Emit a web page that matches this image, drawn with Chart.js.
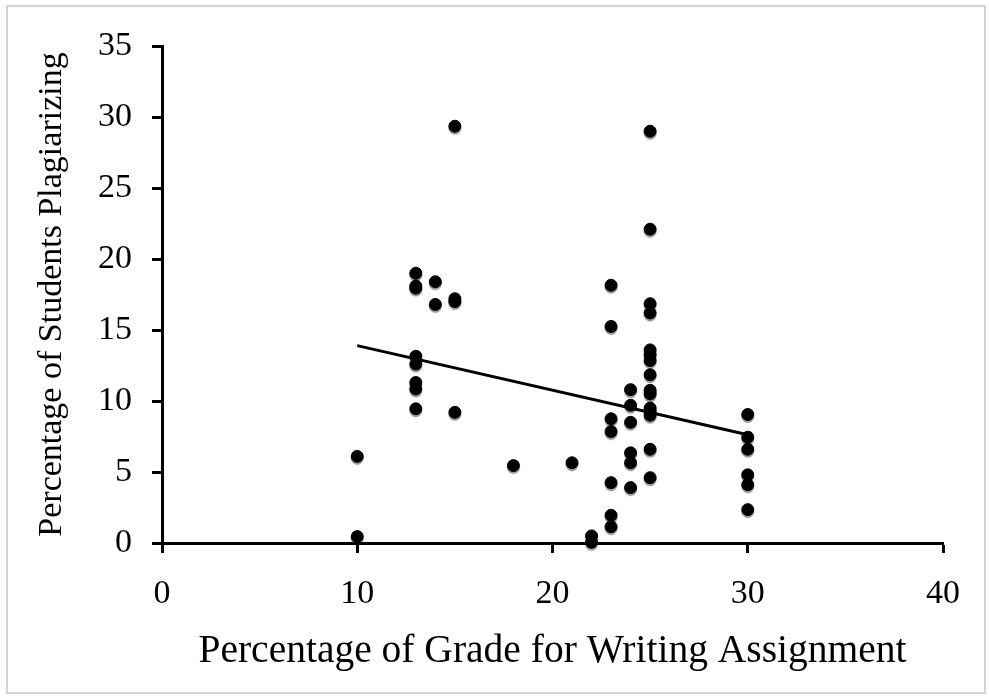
<!DOCTYPE html>
<html>
<head>
<meta charset="utf-8">
<script src="https://cdn.jsdelivr.net/npm/chart.js@4"></script>
<style>
  body { margin: 0; background: #fff; }
  #wrap { position: relative; width: 989px; height: 698px; }
  #frame { position: absolute; left: 6px; top: 5px; width: 976px; height: 685px; border: 2px solid #d4d4d4; pointer-events: none; }
</style>
</head>
<body>
<div id="wrap">
  <canvas id="plagiarismChart" width="989" height="698"></canvas>
  <div id="frame"></div>
</div>
<script>
// percentage of grade for the writing assignment (x) and % of students plagiarizing (y)
const gradeShare = [
  10, 10,
  13, 13, 13, 13, 13, 13, 13, 13,
  14, 14,
  15, 15, 15, 15,
  18, 21, 22, 22,
  23, 23, 23, 23, 23, 23, 23,
  24, 24, 24, 24, 24, 24,
  25, 25, 25, 25, 25, 25, 25, 25, 25, 25, 25, 25, 25, 25, 25,
  30, 30, 30, 30, 30, 30
];
const plagiarizing = [
  6.1, 0.45,
  19.0, 18.1, 17.95, 13.15, 12.6, 11.3, 10.85, 9.45,
  18.4, 16.8,
  29.35, 17.2, 17.0, 9.2,
  5.45, 5.65, 0.5, 0.05,
  18.15, 15.25, 8.75, 7.85, 4.25, 1.95, 1.15,
  10.8, 9.7, 8.5, 6.35, 5.65, 3.9,
  29.0, 22.1, 16.85, 16.2, 13.6, 13.25, 12.85, 11.85, 10.75, 10.5, 9.5, 9.25, 9.0, 6.6, 4.6,
  9.05, 7.45, 6.6, 4.8, 4.1, 2.35
];
const trendX = [10, 30];
const trendY = [13.9, 7.62];

const points = gradeShare.map((x, i) => ({ x: x, y: plagiarizing[i] }));
const trend = trendX.map((x, i) => ({ x: x, y: trendY[i] }));

const dotShadow = {
  id: 'dotShadow',
  beforeDatasetDraw(chart, args) {
    if (args.index !== 0) return;
    const c = chart.ctx;
    c.save();
    c.shadowColor = 'rgba(0,0,0,0.35)';
    c.shadowOffsetY = 2;
    c.shadowBlur = 1;
  },
  afterDatasetDraw(chart, args) {
    if (args.index === 0) chart.ctx.restore();
  }
};

const serif = 'Liberation Serif';

new Chart(document.getElementById('plagiarismChart'), {
  type: 'scatter',
  data: {
    datasets: [
      {
        label: 'Students',
        data: points,
        backgroundColor: '#000',
        borderColor: '#000',
        pointRadius: 6,
        pointHoverRadius: 6,
        clip: false,
      },
      {
        type: 'line',
        label: 'Trend',
        data: trend,
        borderColor: '#000',
        borderWidth: 3,
        pointRadius: 0,
        fill: false,
      },
    ],
  },
  options: {
    responsive: false,
    animation: false,
    layout: { padding: { left: 0, right: 46, top: 46, bottom: 0 } },
    plugins: {
      legend: { display: false },
      tooltip: { enabled: false },
    },
    scales: {
      x: {
        type: 'linear',
        min: 0,
        max: 40,
        afterFit: (s) => { s.height = 155; },
        border: { color: '#000', width: 3 },
        grid: { display: true, drawOnChartArea: false, tickLength: 10, tickColor: '#000', tickWidth: 3 },
        ticks: { stepSize: 10, color: '#000', padding: 21, font: { family: serif, size: 34 } },
        title: {
          display: true,
          text: 'Percentage of Grade for Writing Assignment',
          color: '#000',
          font: { family: serif, size: 39.5 },
          padding: { top: 4, bottom: 23 },
        },
      },
      y: {
        type: 'linear',
        min: 0,
        max: 35,
        afterFit: (s) => { s.width = 162; },
        border: { color: '#000', width: 3 },
        grid: { display: true, drawOnChartArea: false, tickLength: 10, tickColor: '#000', tickWidth: 3 },
        ticks: { stepSize: 5, color: '#000', padding: 20, font: { family: serif, size: 34 } },
        title: {
          display: true,
          text: 'Percentage of Students Plagiarizing',
          color: '#000',
          font: { family: serif, size: 34 },
          padding: { top: 32, bottom: 4 },
        },
      },
    },
  },
  plugins: [dotShadow],
});
</script>
</body>
</html>
